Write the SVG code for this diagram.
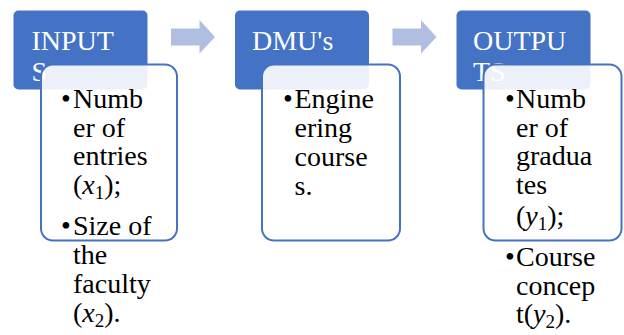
<svg xmlns="http://www.w3.org/2000/svg" width="624" height="335" viewBox="0 0 624 335" font-family="Liberation Serif, serif">
<rect width="624" height="335" fill="#ffffff"/>
<g id="connectors" fill="#b0bee2">
<path d="M171,28.5 H199.5 V20 L215,37 L199.5,53.5 V45.5 H171 Z"/>
<path d="M392.5,28.5 H421 V20 L436.5,37 L421,53.5 V45.5 H392.5 Z"/>
</g>
<g id="inputs">
<rect fill="#4472c4" x="13.5" y="10.5" width="134" height="79" rx="5"/>
<text style="font-family:'Liberation Serif',serif;font-size:28px" fill="#ffffff" x="31.5" y="50">INPUT</text>
<text style="font-family:'Liberation Serif',serif;font-size:28px" fill="#ffffff" x="31.5" y="81">S</text>
<rect fill="#ffffff" fill-opacity="0.9" stroke="#4472c4" stroke-width="2" x="41" y="64.5" width="136" height="176" rx="12"/>
<text style="font-family:'Liberation Serif',serif;font-size:28px" x="61" y="108">•</text>
<text style="font-family:'Liberation Serif',serif;font-size:28px" x="73" y="108">Numb</text>
<text style="font-family:'Liberation Serif',serif;font-size:28px" x="73" y="136.5">er of</text>
<text style="font-family:'Liberation Serif',serif;font-size:28px" x="73" y="165">entries</text>
<text style="font-family:'Liberation Serif',serif;font-size:28px" x="73" y="194">(<tspan font-style="italic">x</tspan><tspan font-size="19" dy="5">1</tspan><tspan dy="-5">);</tspan></text>
<text style="font-family:'Liberation Serif',serif;font-size:28px" x="61" y="235">•</text>
<text style="font-family:'Liberation Serif',serif;font-size:28px" x="73" y="235">Size of</text>
<text style="font-family:'Liberation Serif',serif;font-size:28px" x="73" y="264">the</text>
<text style="font-family:'Liberation Serif',serif;font-size:28px" x="73" y="293">faculty</text>
<text style="font-family:'Liberation Serif',serif;font-size:28px" x="73" y="322">(<tspan font-style="italic">x</tspan><tspan font-size="19" dy="5">2</tspan><tspan dy="-5">).</tspan></text>
</g>
<g id="dmus">
<rect fill="#4472c4" x="235" y="10.5" width="134" height="79" rx="5"/>
<text style="font-family:'Liberation Serif',serif;font-size:28px" fill="#ffffff" x="252" y="50">DMU's</text>
<rect fill="#ffffff" fill-opacity="0.9" stroke="#4472c4" stroke-width="2" x="262" y="64.5" width="138" height="176" rx="12"/>
<text style="font-family:'Liberation Serif',serif;font-size:28px" x="283" y="108">•</text>
<text style="font-family:'Liberation Serif',serif;font-size:28px" x="294.5" y="108">Engine</text>
<text style="font-family:'Liberation Serif',serif;font-size:28px" x="294.5" y="137">ering</text>
<text style="font-family:'Liberation Serif',serif;font-size:28px" x="294.5" y="166">course</text>
<text style="font-family:'Liberation Serif',serif;font-size:28px" x="294.5" y="195">s.</text>
</g>
<g id="outputs">
<rect fill="#4472c4" x="456.5" y="10.5" width="134" height="79" rx="5"/>
<text style="font-family:'Liberation Serif',serif;font-size:28px" fill="#ffffff" x="473" y="50">OUTPU</text>
<text style="font-family:'Liberation Serif',serif;font-size:28px" fill="#ffffff" x="473" y="81">TS</text>
<rect fill="#ffffff" fill-opacity="0.9" stroke="#4472c4" stroke-width="2" x="483.5" y="64.5" width="138" height="176" rx="12"/>
<text style="font-family:'Liberation Serif',serif;font-size:28px" x="505" y="108">•</text>
<text style="font-family:'Liberation Serif',serif;font-size:28px" x="516" y="108">Numb</text>
<text style="font-family:'Liberation Serif',serif;font-size:28px" x="516" y="136.5">er of</text>
<text style="font-family:'Liberation Serif',serif;font-size:28px" x="516" y="165">gradua</text>
<text style="font-family:'Liberation Serif',serif;font-size:28px" x="516" y="193.5">tes</text>
<text style="font-family:'Liberation Serif',serif;font-size:28px" x="516" y="225">(<tspan font-style="italic">y</tspan><tspan font-size="19" dy="5">1</tspan><tspan dy="-5">);</tspan></text>
<text style="font-family:'Liberation Serif',serif;font-size:28px" x="505" y="266">•</text>
<text style="font-family:'Liberation Serif',serif;font-size:28px" x="516" y="266">Course</text>
<text style="font-family:'Liberation Serif',serif;font-size:28px" x="516" y="294.5">concep</text>
<text style="font-family:'Liberation Serif',serif;font-size:28px" x="516" y="323">t(<tspan font-style="italic">y</tspan><tspan font-size="19" dy="5">2</tspan><tspan dy="-5">).</tspan></text>
</g>
</svg>
